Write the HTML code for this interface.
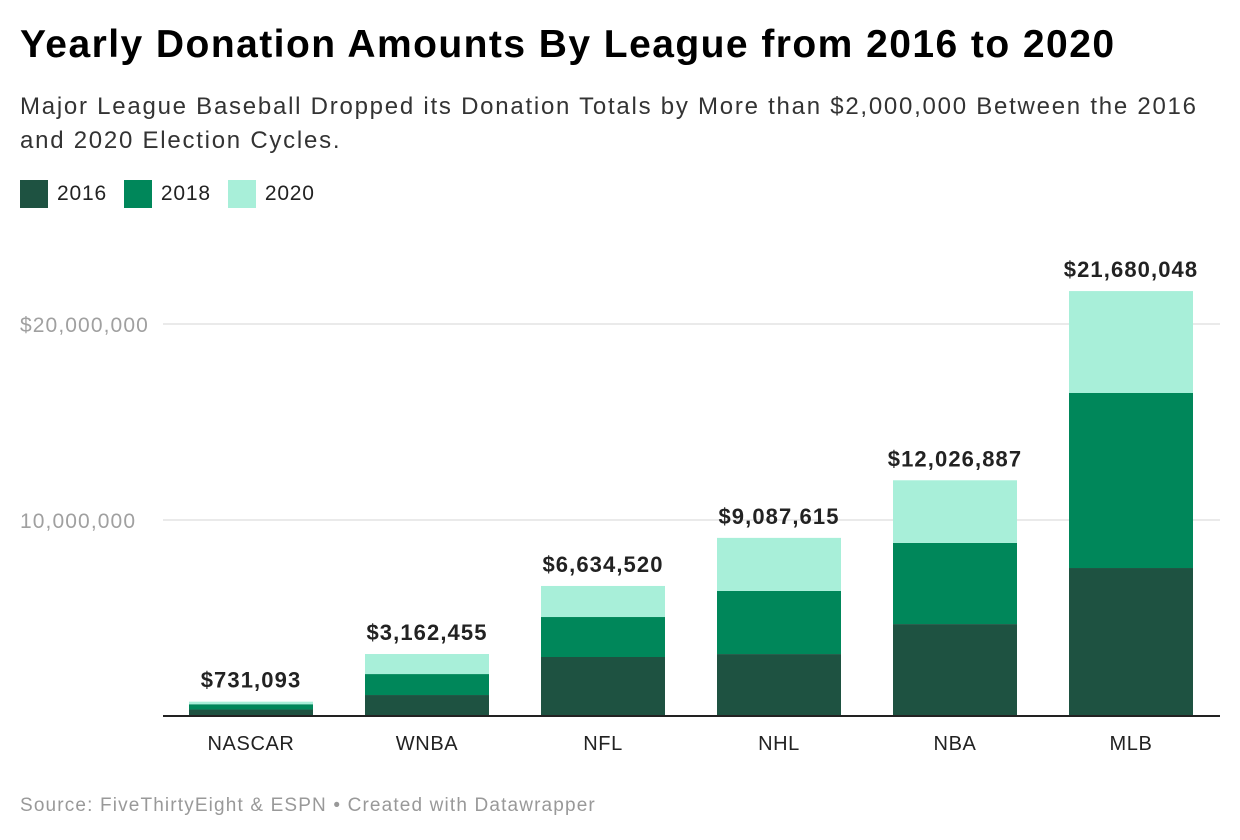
<!DOCTYPE html>
<html><head><meta charset="utf-8"><style>
body{margin:0;background:#fff;font-family:"Liberation Sans",sans-serif;}
#wrap{position:relative;width:1240px;height:840px;overflow:hidden}
.t{position:absolute;white-space:nowrap}
</style></head><body>
<div id="wrap">
<div class="t" style="left:20px;top:23px;font-size:39px;font-weight:bold;color:#000;letter-spacing:1.45px">Yearly Donation Amounts By League from 2016 to 2020</div>
<div class="t" style="left:20px;top:90px;font-size:24px;color:#333;line-height:34px;letter-spacing:1.75px">Major League Baseball Dropped its Donation Totals by More than $2,000,000 Between the 2016<br>and 2020 Election Cycles.</div>
<div class="t" style="left:20px;top:180px;font-size:21px;color:#222;display:flex;align-items:center;letter-spacing:0.8px">
<span style="display:flex;align-items:center;margin-right:17px"><span style="width:28px;height:28px;background:#1e5241;display:inline-block;margin-right:9px"></span>2016</span>
<span style="display:flex;align-items:center;margin-right:17px"><span style="width:28px;height:28px;background:#00875a;display:inline-block;margin-right:9px"></span>2018</span>
<span style="display:flex;align-items:center"><span style="width:28px;height:28px;background:#a8efd9;display:inline-block;margin-right:9px"></span>2020</span>
</div>
<svg id="chart" width="1240" height="840" style="position:absolute;left:0;top:0"></svg>
<div class="t" style="left:20px;top:795px;font-size:19px;color:#999;letter-spacing:1.15px">Source: FiveThirtyEight &amp; ESPN • Created with Datawrapper</div>
</div>
<script>
const categories=["NASCAR","WNBA","NFL","NHL","NBA","MLB"];
const v2016=[0.33,1.07,3.01,3.16,4.69,7.55];
const v2018=[0.27,1.07,2.04,3.22,4.14,8.93];
const v2020=[0.131093,1.022455,1.58452,2.707615,3.196887,5.200048];
const totalLabels=["$731,093","$3,162,455","$6,634,520","$9,087,615","$12,026,887","$21,680,048"];
const ticks=[10,20];
const tickLabels=["10,000,000","$20,000,000"];
const NS="http://www.w3.org/2000/svg";
const svg=document.getElementById('chart');
const y=v=>716-v*19.6;
const x=i=>189+i*176;
const bw=124;
function mk(t,a){const e=document.createElementNS(NS,t);for(const k in a)e.setAttribute(k,a[k]);svg.appendChild(e);return e;}
ticks.forEach((t,i)=>{
 const l=mk('line',{x1:163,x2:1220,y1:y(t),y2:y(t),stroke:'#e3e3e3','stroke-width':1.5});
 
 
 const tx=mk('text',{x:20,y:y(t)+8,'text-anchor':'start','font-size':21,fill:'#a0a0a0','letter-spacing':1.1,'font-family':'Liberation Sans, sans-serif'});
 tx.textContent=tickLabels[i];
 
 
});
const series=[[v2016,'#1e5241','2016'],[v2018,'#00875a','2018'],[v2020,'#a8efd9','2020']];
categories.forEach((c,i)=>{
 let base=0;
 series.forEach(([arr,col,yr])=>{
  const r=mk('rect',{x:x(i),y:y(base+arr[i]),width:bw,height:y(base)-y(base+arr[i]),fill:col});
  
  
  base+=arr[i];
 });
 const lt=mk('text',{x:x(i)+bw/2,y:y(base)-14,'text-anchor':'middle','font-size':22,'font-weight':'bold',fill:'#222','letter-spacing':1.1,'font-family':'Liberation Sans, sans-serif'});
 lt.textContent=totalLabels[i];
 
 
 const xl=mk('text',{x:x(i)+bw/2,y:750,'text-anchor':'middle','font-size':20,fill:'#222','letter-spacing':0.6,'font-family':'Liberation Sans, sans-serif'});
 xl.textContent=c;
 
 
});
const ax=mk('line',{x1:163,x2:1220,y1:716,y2:716,stroke:'#222','stroke-width':2});


</script>
</body></html>
